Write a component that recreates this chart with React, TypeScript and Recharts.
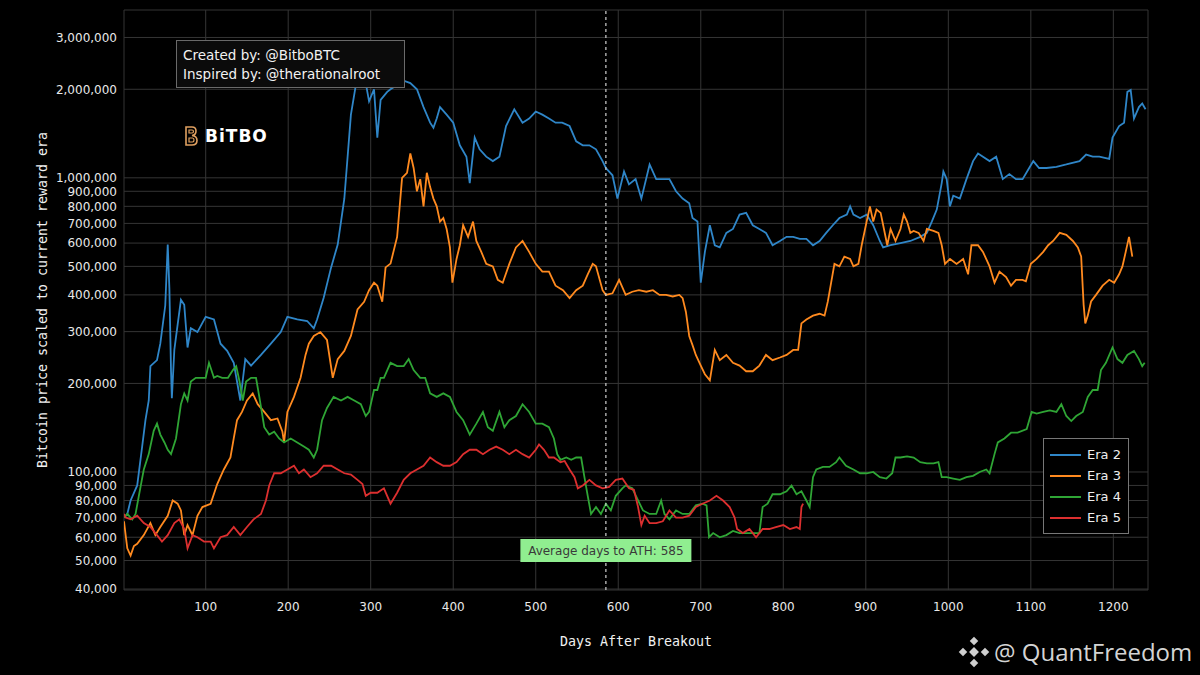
import React from 'react'
import { LineChart, Line, XAxis, YAxis, CartesianGrid, ReferenceLine, Legend } from 'recharts'

// [days after breakout, price in thousands of USD, scaled to current reward era]
const era2: [number, number][] = [
  [1, 70], [5, 72], [9, 80], [17, 90], [23, 122], [27, 150], [31, 175], [33, 229], [41, 240], [45, 273],
  [51, 368], [54, 593], [56, 420], [58, 220], [59, 178], [62, 260], [66, 317], [70, 385], [74, 370], [78, 265],
  [82, 308], [90, 299], [100, 337], [110, 330], [118, 273], [126, 258], [134, 235], [142, 175], [148, 242], [155, 230],
  [167, 250], [179, 273], [191, 299], [199, 337], [211, 330], [223, 326], [231, 308], [235, 330], [243, 391], [252, 496],
  [260, 593], [268, 849], [276, 1640], [282, 2070], [290, 2200], [294, 2100], [298, 1820], [304, 2000], [308, 1370], [312, 1840],
  [316, 1900], [320, 1960], [324, 2000], [332, 2070], [340, 2140], [348, 2100], [356, 2000], [364, 1740], [372, 1540], [376, 1480],
  [380, 1590], [384, 1740], [392, 1640], [400, 1540], [408, 1290], [416, 1180], [420, 960], [426, 1370], [432, 1250], [440, 1180],
  [448, 1140], [456, 1180], [464, 1500], [474, 1710], [484, 1540], [492, 1590], [500, 1680], [508, 1640], [516, 1590], [524, 1540],
  [532, 1540], [541, 1500], [549, 1330], [557, 1290], [565, 1290], [573, 1250], [581, 1140], [585, 1080], [593, 1020], [599, 850],
  [607, 1050], [613, 950], [621, 990], [628, 850], [638, 1110], [646, 990], [654, 990], [662, 990], [670, 900], [678, 850],
  [686, 820], [690, 730], [696, 710], [700, 440], [705, 560], [711, 690], [717, 590], [723, 580], [731, 650], [739, 670],
  [747, 750], [755, 760], [763, 690], [771, 670], [779, 650], [787, 590], [796, 610], [804, 630], [812, 630], [820, 620],
  [828, 620], [836, 590], [844, 610], [852, 650], [860, 690], [868, 730], [877, 750], [881, 800], [885, 750], [893, 730],
  [901, 750], [909, 690], [917, 610], [921, 580], [930, 590], [942, 600], [954, 610], [966, 630], [974, 650], [980, 710],
  [986, 780], [992, 960], [994, 1050], [998, 990], [1002, 800], [1006, 870], [1014, 850], [1022, 990], [1030, 1140], [1036, 1210],
  [1042, 1180], [1050, 1140], [1058, 1180], [1066, 990], [1074, 1030], [1082, 990], [1090, 990], [1098, 1080], [1103, 1140], [1110, 1080],
  [1119, 1080], [1131, 1090], [1143, 1110], [1159, 1140], [1167, 1200], [1175, 1180], [1183, 1180], [1195, 1160], [1199, 1370], [1207, 1500],
  [1213, 1540], [1217, 1960], [1221, 1990], [1225, 1590], [1231, 1740], [1235, 1790], [1239, 1710],
]

const era3: [number, number][] = [
  [1, 68], [3, 61], [5, 55], [9, 52], [13, 56], [17, 57], [25, 61], [33, 67], [39, 61], [45, 65],
  [54, 71], [60, 80], [66, 78], [70, 74], [74, 61], [78, 66], [84, 61], [90, 71], [96, 76], [106, 78],
  [114, 91], [122, 102], [130, 112], [134, 130], [138, 150], [144, 160], [150, 175], [157, 185], [163, 170], [171, 160],
  [179, 150], [187, 152], [193, 137], [195, 126], [199, 160], [207, 180], [215, 209], [221, 250], [225, 273], [231, 290],
  [239, 299], [247, 281], [254, 209], [260, 242], [268, 258], [276, 290], [284, 357], [292, 379], [298, 415], [304, 440],
  [308, 430], [314, 379], [318, 496], [324, 511], [332, 630], [338, 1000], [344, 1040], [348, 1210], [352, 1080], [356, 900],
  [360, 990], [364, 800], [368, 1040], [372, 930], [376, 850], [380, 800], [384, 710], [388, 730], [392, 670], [396, 580],
  [399, 440], [404, 530], [408, 590], [412, 690], [418, 630], [424, 710], [428, 610], [434, 560], [440, 510], [448, 500],
  [454, 450], [460, 440], [468, 510], [476, 580], [484, 610], [492, 560], [500, 510], [508, 480], [516, 480], [524, 430],
  [533, 415], [541, 390], [549, 415], [557, 430], [563, 470], [569, 510], [573, 500], [581, 415], [585, 400], [593, 405],
  [601, 450], [609, 400], [617, 410], [625, 415], [634, 410], [642, 415], [650, 400], [658, 400], [666, 395], [674, 400],
  [678, 390], [682, 350], [686, 290], [690, 270], [694, 250], [700, 230], [705, 215], [711, 205], [717, 260], [723, 240],
  [731, 250], [739, 235], [747, 230], [755, 220], [763, 220], [771, 230], [779, 250], [787, 240], [796, 245], [804, 250],
  [812, 260], [818, 260], [822, 320], [828, 330], [836, 340], [844, 345], [850, 340], [854, 380], [858, 440], [862, 510],
  [868, 500], [874, 540], [881, 530], [885, 500], [891, 510], [895, 590], [901, 710], [905, 800], [909, 710], [913, 780],
  [918, 760], [922, 670], [926, 590], [930, 670], [936, 610], [942, 670], [946, 750], [950, 710], [954, 650], [958, 660],
  [964, 650], [970, 610], [974, 670], [982, 660], [988, 650], [992, 590], [996, 510], [1002, 530], [1010, 510], [1018, 530],
  [1024, 470], [1028, 590], [1036, 590], [1042, 560], [1050, 500], [1056, 440], [1062, 480], [1070, 460], [1076, 430], [1082, 450],
  [1090, 450], [1094, 445], [1100, 510], [1107, 530], [1115, 560], [1121, 590], [1127, 610], [1135, 650], [1143, 640], [1151, 610],
  [1157, 580], [1161, 540], [1164, 370], [1166, 320], [1169, 340], [1173, 380], [1179, 400], [1187, 430], [1195, 450], [1201, 440],
  [1207, 470], [1211, 500], [1215, 560], [1219, 630], [1223, 540],
]

const era4: [number, number][] = [
  [1, 70], [5, 72], [11, 69], [15, 72], [19, 83], [25, 102], [31, 115], [37, 138], [41, 146], [45, 134],
  [50, 126], [54, 119], [58, 115], [64, 130], [70, 170], [74, 185], [78, 175], [82, 203], [88, 209], [94, 209],
  [100, 209], [104, 235], [110, 209], [114, 212], [120, 209], [127, 209], [133, 222], [137, 229], [141, 203], [145, 175],
  [149, 203], [155, 209], [161, 209], [165, 180], [171, 142], [177, 134], [183, 137], [189, 130], [195, 126], [203, 130],
  [211, 126], [219, 122], [225, 119], [231, 112], [235, 119], [241, 150], [247, 165], [255, 180], [264, 175], [272, 180],
  [280, 175], [288, 170], [294, 155], [298, 160], [304, 190], [308, 190], [312, 209], [316, 209], [324, 235], [332, 229],
  [340, 229], [346, 242], [352, 222], [360, 209], [366, 209], [372, 185], [380, 180], [388, 185], [396, 180], [404, 160],
  [412, 150], [420, 134], [428, 146], [436, 160], [442, 142], [448, 138], [456, 160], [462, 142], [468, 150], [476, 155],
  [484, 170], [492, 160], [500, 146], [508, 146], [516, 142], [522, 130], [526, 115], [530, 110], [537, 112], [543, 110],
  [549, 112], [555, 112], [559, 96], [563, 83], [567, 72], [573, 76], [579, 72], [585, 78], [591, 74], [597, 83],
  [605, 88], [609, 90], [617, 88], [624, 80], [630, 74], [638, 72], [646, 72], [652, 80], [656, 72], [662, 69],
  [670, 74], [678, 72], [686, 72], [694, 77], [702, 78], [707, 77], [710, 60], [715, 62], [723, 60], [731, 61],
  [739, 63], [747, 62], [755, 62], [763, 62], [771, 62], [775, 76], [781, 78], [787, 84], [796, 84], [804, 86],
  [810, 90], [816, 84], [822, 86], [828, 80], [832, 76], [836, 96], [840, 102], [848, 104], [856, 104], [864, 108],
  [868, 112], [876, 105], [885, 102], [893, 99], [901, 99], [909, 100], [917, 96], [925, 95], [932, 99], [936, 112],
  [942, 112], [950, 113], [958, 112], [966, 108], [974, 107], [982, 107], [988, 108], [992, 96], [998, 96], [1006, 95],
  [1014, 94], [1022, 96], [1030, 97], [1038, 100], [1046, 102], [1050, 99], [1056, 115], [1060, 126], [1068, 130], [1076, 136],
  [1084, 136], [1095, 140], [1101, 160], [1107, 158], [1115, 160], [1123, 162], [1131, 160], [1137, 170], [1143, 155], [1149, 149],
  [1155, 155], [1163, 160], [1169, 180], [1175, 190], [1181, 190], [1185, 222], [1191, 235], [1199, 265], [1205, 242], [1211, 235],
  [1217, 250], [1225, 258], [1231, 242], [1235, 229], [1238, 235],
]

const era5: [number, number][] = [
  [1, 72], [3, 70], [9, 69], [17, 71], [25, 67], [33, 65], [41, 61], [47, 58], [54, 61], [62, 67],
  [68, 69], [74, 64], [78, 55], [84, 61], [90, 60], [98, 58], [106, 58], [110, 55], [118, 60], [126, 61],
  [134, 65], [142, 61], [150, 65], [158, 69], [167, 72], [173, 80], [177, 90], [183, 99], [191, 99], [199, 102],
  [207, 105], [213, 99], [219, 102], [227, 96], [235, 99], [243, 105], [252, 105], [260, 102], [268, 99], [276, 98],
  [284, 94], [290, 91], [294, 83], [300, 85], [308, 85], [316, 88], [324, 78], [332, 85], [340, 94], [348, 99],
  [356, 102], [364, 105], [372, 112], [380, 108], [388, 105], [396, 105], [404, 108], [412, 115], [420, 119], [428, 119],
  [436, 115], [444, 119], [452, 122], [460, 119], [468, 115], [476, 119], [484, 115], [492, 112], [500, 119], [504, 124],
  [510, 119], [516, 112], [522, 112], [530, 108], [535, 109], [541, 102], [547, 96], [551, 88], [557, 90], [565, 94],
  [573, 90], [581, 88], [589, 89], [597, 94], [605, 95], [613, 88], [619, 87], [624, 76], [628, 66], [632, 71],
  [638, 67], [646, 67], [654, 68], [662, 74], [670, 70], [678, 70], [686, 71], [694, 76], [702, 78], [711, 80],
  [719, 83], [727, 80], [735, 76], [741, 70], [744, 64], [751, 62], [759, 64], [767, 60], [775, 64], [783, 64],
  [791, 65], [800, 66], [808, 64], [816, 65], [820, 64], [822, 76], [824, 78],
]

const xTicks = [100, 200, 300, 400, 500, 600, 700, 800, 900, 1000, 1100, 1200]
const yTicks = [
  40000, 50000, 60000, 70000, 80000, 90000, 100000,
  200000, 300000, 400000, 500000, 600000, 700000, 800000, 900000,
  1000000, 2000000, 3000000,
]
const avgDaysToAth = 585

const series = [
  { name: 'Era 2', color: '#2f86c8', points: era2 },
  { name: 'Era 3', color: '#ff8a1f', points: era3 },
  { name: 'Era 4', color: '#2fa535', points: era4 },
  { name: 'Era 5', color: '#dc2f2f', points: era5 },
]

const toRows = (pts: [number, number][]) => pts.map(([day, k]) => ({ day, price: k * 1000 }))

const sans = '"DejaVu Sans", Verdana, sans-serif'
const mono = '"DejaVu Sans Mono", monospace'

function YTitle({ viewBox }: any) {
  const cx = 42
  const cy = viewBox.y + viewBox.height / 2
  return (
    <text x={cx} y={cy} transform={`rotate(-90, ${cx}, ${cy})`} textAnchor="middle" dominantBaseline="central"
      fill="#f0f0f0" fontSize={13.3} fontFamily={mono}>
      Bitcoin price scaled to current reward era
    </text>
  )
}

function XTitle({ viewBox }: any) {
  return (
    <text x={viewBox.x + viewBox.width / 2} y={641} textAnchor="middle" dominantBaseline="central"
      fill="#f0f0f0" fontSize={13.3} fontFamily={mono}>
      Days After Breakout
    </text>
  )
}

function AthLabel({ viewBox }: any) {
  const w = 171
  const h = 23
  const bottom = viewBox.y + viewBox.height
  return (
    <g>
      <rect x={viewBox.x - w / 2} y={bottom - 51} width={w} height={h} fill="#90ee90" />
      <text x={viewBox.x} y={bottom - 51 + h / 2} textAnchor="middle" dominantBaseline="central"
        fill="#3a3a3a" fontSize={12} fontFamily={sans}>
        {`Average days to ATH: ${avgDaysToAth}`}
      </text>
    </g>
  )
}

function LegendBox() {
  return (
    <div style={{ border: '1px solid #777', background: '#000', padding: '5px 6px', boxSizing: 'border-box', width: 86 }}>
      {series.map((s) => (
        <div key={s.name} style={{ display: 'flex', alignItems: 'center', height: 21 }}>
          <span style={{ display: 'inline-block', width: 31, height: 2, background: s.color, marginRight: 6 }} />
          <span style={{ color: '#eee', fontSize: 13, fontFamily: sans }}>{s.name}</span>
        </div>
      ))}
    </div>
  )
}

export default function App() {
  return (
    <div style={{ position: 'absolute', left: 0, top: 0, width: 1200, height: 675, background: '#000', overflow: 'hidden' }}>
      <LineChart width={1200} height={675} margin={{ top: 10, right: 52, bottom: 25, left: 0 }}>
        <CartesianGrid stroke="#353535" strokeWidth={1} />
        <XAxis
          type="number"
          dataKey="day"
          domain={[1, 1242]}
          ticks={xTicks}
          allowDataOverflow
          height={60}
          tickLine={false}
          axisLine={false}
          tickMargin={6}
          tick={{ fill: '#e8e8e8', fontSize: 12, fontFamily: sans }}
          label={<XTitle />}
        />
        <YAxis
          type="number"
          scale="log"
          domain={[39700, 3720000]}
          ticks={yTicks}
          allowDataOverflow
          width={124}
          tickLine={false}
          axisLine={false}
          tickMargin={1}
          interval={0}
          tick={{ fill: '#e8e8e8', fontSize: 12, fontFamily: sans }}
          tickFormatter={(v: number) => v.toLocaleString('en-US')}
          label={<YTitle />}
        />
        {series.map((s) => (
          <Line
            key={s.name}
            name={s.name}
            data={toRows(s.points)}
            dataKey="price"
            type="linear"
            stroke={s.color}
            strokeWidth={1.8}
            dot={false}
            activeDot={false}
            isAnimationActive={false}
          />
        ))}
        <ReferenceLine x={avgDaysToAth} stroke="#cfcfcf" strokeWidth={1.2} strokeDasharray="3 3" label={<AthLabel />} />
        <Legend
          layout="vertical"
          align="center"
          verticalAlign="middle"
          content={<LegendBox />}
          wrapperStyle={{ left: 1043, top: 438, width: 86, height: 95 }}
        />
      </LineChart>

      <div style={{
        position: 'absolute', left: 176, top: 40, width: 229, height: 48, boxSizing: 'border-box',
        border: '1px solid #6a6a6a', background: '#0b0b0b', padding: '5px 0 0 6px',
        color: '#f2f2f2', fontFamily: sans, fontSize: 13.5, lineHeight: '19px', whiteSpace: 'nowrap',
      }}>
        <div>Created by: @BitboBTC</div>
        <div>Inspired by: @therationalroot</div>
      </div>

      <div style={{ position: 'absolute', left: 184, top: 126, display: 'flex', alignItems: 'center' }}>
        <svg width={14} height={20} viewBox="0 0 14 20">
          <path d="M2 1 H8 Q12 1 12 5 Q12 9 8 9.5 Q13 10 13 14.5 Q13 19 8 19 H2 Z" fill="none" stroke="#e0a060" strokeWidth={1.6} />
          <path d="M5 4 H8 Q9.5 4 9.5 5.5 Q9.5 7 8 7 H5 Z M5 12 H8.5 Q10 12 10 14 Q10 16 8.5 16 H5 Z" fill="none" stroke="#e0a060" strokeWidth={1.2} />
        </svg>
        <span style={{ marginLeft: 7, color: '#fff', fontFamily: sans, fontWeight: 'bold', fontSize: 17, letterSpacing: 1 }}>BiTBO</span>
      </div>

      <div style={{ position: 'absolute', left: 958, top: 635, display: 'flex', alignItems: 'center' }}>
        <svg width={32} height={32} viewBox="0 0 32 32">
          <g fill="#cfcfcf">
            <rect x={13} y={2} width={6} height={6} transform="rotate(45 16 5)" />
            <rect x={13} y={24} width={6} height={6} transform="rotate(45 16 27)" />
            <rect x={2} y={13} width={6} height={6} transform="rotate(45 5 16)" />
            <rect x={24} y={13} width={6} height={6} transform="rotate(45 27 16)" />
            <rect x={12.5} y={12.5} width={7} height={7} transform="rotate(45 16 16)" />
          </g>
        </svg>
        <span style={{ marginLeft: 4, color: '#d4d4d4', fontFamily: '"Open Sans", sans-serif', fontSize: 24 }}>@ QuantFreedom</span>
      </div>
    </div>
  )
}
